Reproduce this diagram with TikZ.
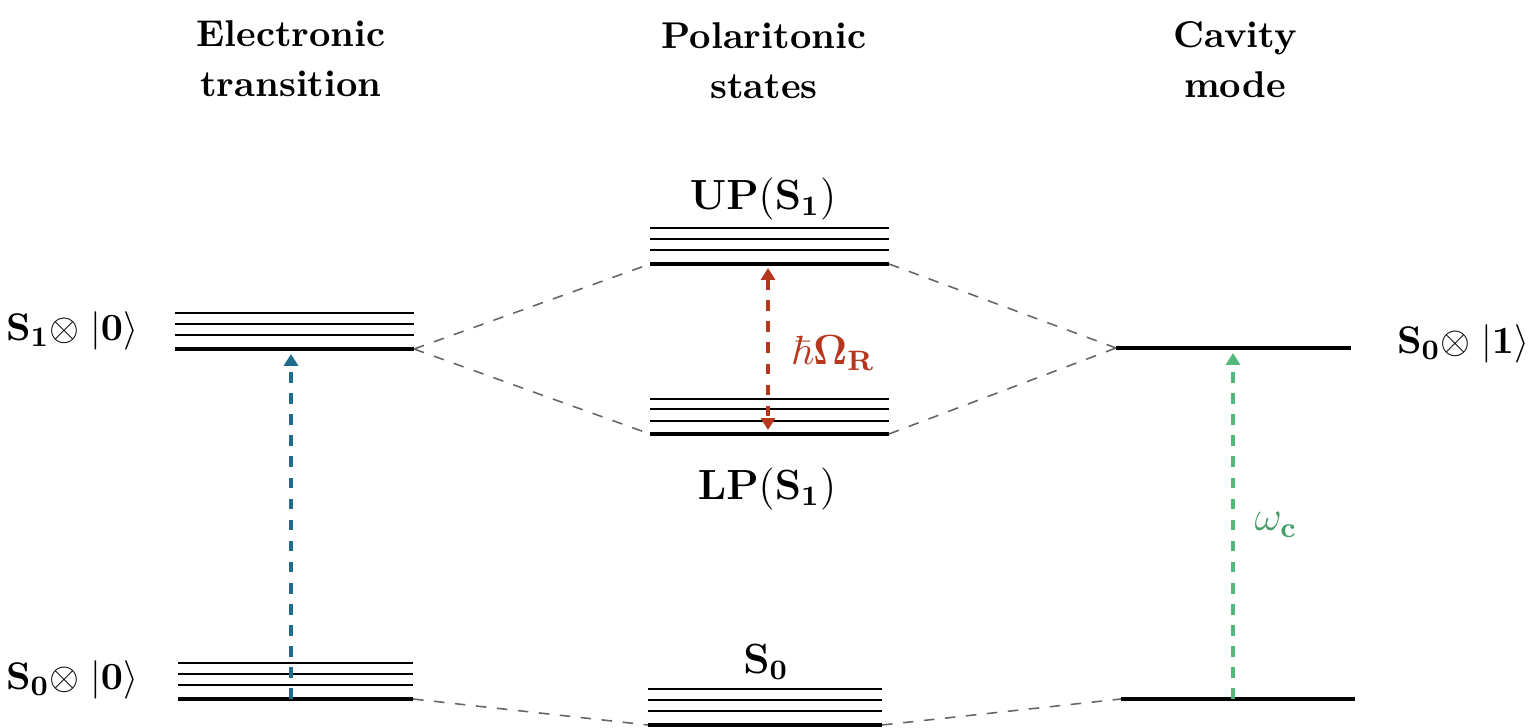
\documentclass[tikz,border=0pt]{standalone}
\usepackage{amssymb}
\usepackage{amsmath}
\usetikzlibrary{arrows.meta}

\definecolor{exblue}{HTML}{1F6B8E}
\definecolor{rabired}{HTML}{B5381E}
\definecolor{cavgreen}{HTML}{52B97B}

\tikzset{
    lvl/.style={line width=1.4pt},
    sublvl/.style={line width=0.6pt},
    link/.style={dashed, gray!80!black, line width=0.45pt},
    tip/.tip={Triangle[length=3.4pt,width=4pt]},
    trans/.style={dashed, line width=0.9pt, -tip},
    head/.style={font=\fontsize{10.6}{14.2}\selectfont\bfseries, align=center, inner sep=0pt},
    lbl/.style={font=\fontsize{11}{13}\selectfont, inner sep=0pt},
    bigl/.style={font=\fontsize{11.6}{14}\selectfont, inner sep=0pt}
}

\begin{document}
\begin{tikzpicture}
        \useasboundingbox (0,0) rectangle (15.33,7.28);

        % level end points
        \coordinate (eTopL) at (1.75,3.79);
        \coordinate (eTopR) at (4.14,3.79);
        \coordinate (eBotL) at (1.78,0.29);
        \coordinate (eBotR) at (4.13,0.29);
        \coordinate (upL) at (6.50,4.64);
        \coordinate (upR) at (8.89,4.64);
        \coordinate (lpL) at (6.50,2.94);
        \coordinate (lpR) at (8.89,2.94);
        \coordinate (gsL) at (6.48,0.03);
        \coordinate (gsR) at (8.82,0.03);
        \coordinate (cTopL) at (11.16,3.80);
        \coordinate (cTopR) at (13.51,3.80);
        \coordinate (cBotL) at (11.21,0.29);
        \coordinate (cBotR) at (13.55,0.29);

        % electronic transition
        \draw[lvl] (eTopL) -- (eTopR);
        \draw[sublvl] (1.75,3.93) -- (4.14,3.93);
        \draw[sublvl] (1.75,4.04) -- (4.14,4.04);
        \draw[sublvl] (1.75,4.15) -- (4.14,4.15);
        \draw[lvl] (eBotL) -- (eBotR);
        \draw[sublvl] (1.78,0.43) -- (4.13,0.43);
        \draw[sublvl] (1.78,0.54) -- (4.13,0.54);
        \draw[sublvl] (1.78,0.65) -- (4.13,0.65);

        % polaritonic states
        \draw[lvl] (upL) -- (upR);
        \draw[sublvl] (6.50,4.78) -- (8.89,4.78);
        \draw[sublvl] (6.50,4.89) -- (8.89,4.89);
        \draw[sublvl] (6.50,5.00) -- (8.89,5.00);
        \draw[lvl] (lpL) -- (lpR);
        \draw[sublvl] (6.50,3.07) -- (8.89,3.07);
        \draw[sublvl] (6.50,3.19) -- (8.89,3.19);
        \draw[sublvl] (6.50,3.29) -- (8.89,3.29);
        \draw[lvl] (gsL) -- (gsR);
        \draw[sublvl] (6.48,0.17) -- (8.82,0.17);
        \draw[sublvl] (6.48,0.28) -- (8.82,0.28);
        \draw[sublvl] (6.48,0.39) -- (8.82,0.39);

        % cavity mode
        \draw[lvl] (cTopL) -- (cTopR);
        \draw[lvl] (cBotL) -- (cBotR);

        % correlation lines
        \draw[link] (eTopR) -- (upL);
        \draw[link] (eTopR) -- (lpL);
        \draw[link] (upR) -- (cTopL);
        \draw[link] (lpR) -- (cTopL);
        \draw[link] (eBotR) -- (gsL);
        \draw[link] (gsR) -- (cBotL);

        % transitions
        \coordinate (exFrom) at (2.91,0.29);
        \coordinate (exTo) at (2.91,3.74);
        \coordinate (rabiTop) at (7.68,4.60);
        \coordinate (rabiBot) at (7.68,2.98);
        \coordinate (cavFrom) at (12.33,0.29);
        \coordinate (cavTo) at (12.33,3.75);
        \draw[trans, exblue] (exFrom) -- (exTo);
        \draw[trans, rabired, tip-tip] (rabiTop) -- (rabiBot);
        \draw[trans, cavgreen] (cavFrom) -- (cavTo);

        % labels
        \node[head] (hdEl) at (2.91,6.69) {Electronic\\transition};
        \node[head] (hdPol) at (7.64,6.67) {Polaritonic\\states};
        \node[head] (hdCav) at (12.35,6.68) {Cavity\\mode};

        \node[lbl] (stS1) at (0.72,3.97) {$\mathbf{S_1}{\otimes}\;|\mathbf{0}\rangle$};
        \node[lbl] (stS0) at (0.72,0.48) {$\mathbf{S_0}{\otimes}\;|\mathbf{0}\rangle$};
        \node[lbl] (stCav) at (14.63,3.84) {$\mathbf{S_0}{\otimes}\;|\mathbf{1}\rangle$};
        \node[bigl] (stUP) at (7.63,5.29) {$\mathbf{UP}(\mathbf{S_1})$};
        \node[bigl] (stLP) at (7.67,2.39) {$\mathbf{LP}(\mathbf{S_1})$};
        \node[bigl] (stGS) at (7.66,0.66) {$\mathbf{S_0}$};
        \node[bigl, rabired] (rabi) at (8.33,3.75) {$\hbar\mathbf{\Omega_{R}}$};
        \node[bigl, cavgreen!85!black] (omc) at (12.76,2.03) {$\omega_{\mathbf{c}}$};
    \end{tikzpicture}
\end{document}
